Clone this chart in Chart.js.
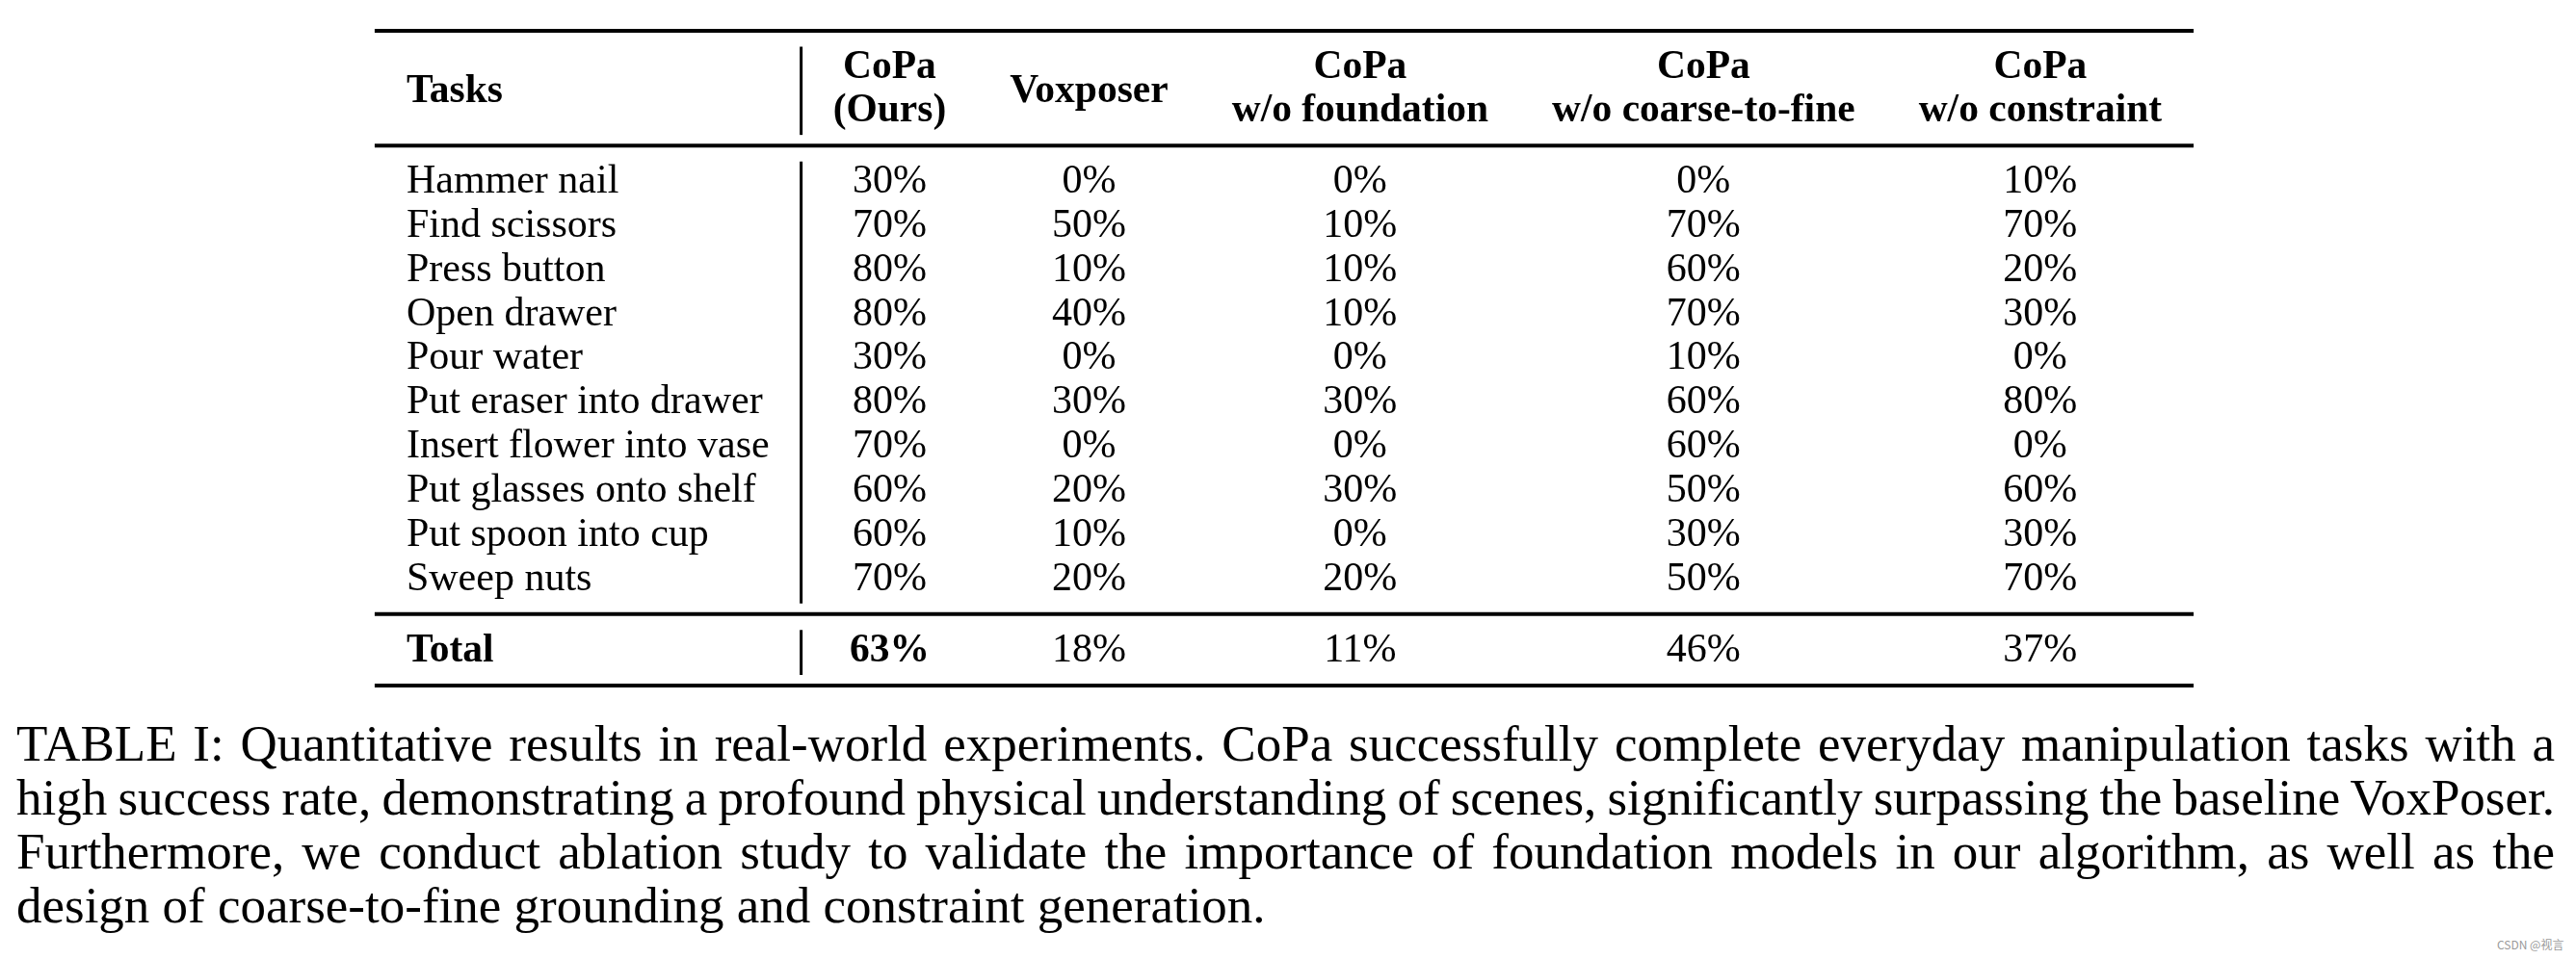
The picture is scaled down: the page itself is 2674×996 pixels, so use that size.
<!DOCTYPE html>
<html>
<head>
<meta charset="utf-8">
<script src="https://cdn.jsdelivr.net/npm/chart.js@4.4.0/dist/chart.umd.min.js"></script>
<style>
  html, body { margin: 0; padding: 0; background: #fff; }
  body { width: 2674px; height: 996px; position: relative; overflow: hidden; }
  #wrap { position: absolute; left: 0; top: 0; width: 2674px; height: 740px; }
  .caption {
    position: absolute; left: 17px; top: 744px; width: 2635px;
    font-family: "Liberation Serif", "Times New Roman", serif;
    font-size: 53px; line-height: 56px; color: #000;
  }
  .caption div { text-align: left; white-space: nowrap; }
  .mark { position: absolute; left: 2592px; top: 972px; font: 12px "Noto Sans CJK SC", sans-serif; color: #9a9a9a; }
</style>
</head>
<body>
<div id="wrap"><canvas id="chart"></canvas></div>
<div class="caption" id="caption"></div>
<div class="mark">CSDN @视言</div>
<script>
const tasks = [
  "Hammer nail", "Find scissors", "Press button", "Open drawer", "Pour water",
  "Put eraser into drawer", "Insert flower into vase", "Put glasses onto shelf",
  "Put spoon into cup", "Sweep nuts"
];
const headers = [
  ["CoPa", "(Ours)"],
  ["Voxposer"],
  ["CoPa", "w/o foundation"],
  ["CoPa", "w/o coarse-to-fine"],
  ["CoPa", "w/o constraint"]
];
const copa = [30, 70, 80, 80, 30, 80, 70, 60, 60, 70];
const voxposer = [0, 50, 10, 40, 0, 30, 0, 20, 10, 20];
const noFoundation = [0, 10, 10, 10, 0, 30, 0, 30, 0, 20];
const noCoarseToFine = [0, 70, 60, 70, 10, 60, 60, 50, 30, 50];
const noConstraint = [10, 70, 20, 30, 0, 80, 0, 60, 30, 70];
const totals = [63, 18, 11, 46, 37];

const captionLines = [
  "TABLE I: Quantitative results in real-world experiments. CoPa successfully complete everyday manipulation tasks with a",
  "high success rate, demonstrating a profound physical understanding of scenes, significantly surpassing the baseline VoxPoser.",
  "Furthermore, we conduct ablation study to validate the importance of foundation models in our algorithm, as well as the",
  "design of coarse-to-fine grounding and constraint generation."
];

const series = [copa, voxposer, noFoundation, noCoarseToFine, noConstraint];

// text look, like the LaTeX table
const FAMILY = '"Liberation Serif", "Times New Roman", serif';
const FS = 42;
const FS_BOLD = 41.5;
const SEP = 33;          // tabcolsep
const AFTER_RULE = 1.07; // rule -> next baseline (line units)
const BEFORE_RULE = 0.55;
const HEAD_LINE = 0.98;

const fontFor = (bold) => (bold ? "bold " + FS_BOLD : FS) + "px " + FAMILY;

// column widths from the text, as tabular does
const mctx = document.createElement("canvas").getContext("2d");
const textW = (s, bold) => {
  mctx.font = fontFor(bold);
  return mctx.measureText(s).width;
};
const pct = (v) => v + "%";

const colW = [];
colW.push(Math.max(textW("Tasks", true), textW("Total", true), ...tasks.map((t) => textW(t))) + 2 * SEP);
headers.forEach((h, k) => {
  colW.push(Math.max(...h.map((s) => textW(s, true)), ...series[k].map((v) => textW(pct(v))), textW(pct(totals[k]), true)) + 2 * SEP);
});
const colLeft = [];
colW.reduce((acc, w) => { colLeft.push(acc); return acc + w; }, 0);
const tableW = colW.reduce((a, b) => a + b, 0);
const colCenter = colW.map((w, k) => colLeft[k] + w / 2);

// rows (line units, top rule = 0)
const topRule = 0;
const head1 = topRule + AFTER_RULE;
const head2 = head1 + HEAD_LINE;
const midRule = head2 + BEFORE_RULE;
const rowY = tasks.map((t, i) => midRule + AFTER_RULE + i);
const totalRule = rowY[rowY.length - 1] + BEFORE_RULE;
const totalY = totalRule + AFTER_RULE;
const bottomRule = totalY + BEFORE_RULE;
const rules = [topRule, midRule, totalRule, bottomRule];

const best = totals.indexOf(Math.max(...totals));

const textSet = (points, labels, bold, align) => ({
  data: points, labels: labels, bold: bold, align: align,
  pointRadius: 0, pointHoverRadius: 0, showLine: false
});

const datasets = [];
datasets.push(textSet(tasks.map((t, i) => ({ x: colLeft[0] + SEP, y: rowY[i] })), tasks, tasks.map(() => false), "left"));
datasets.push(textSet([{ x: colLeft[0] + SEP, y: (head1 + head2) / 2 + 0.05 }, { x: colLeft[0] + SEP, y: totalY }], ["Tasks", "Total"], [true, true], "left"));
headers.forEach((h, k) => {
  const hy = h.length === 2 ? [head1, head2] : [(head1 + head2) / 2 + 0.05];
  datasets.push(textSet(h.map((s, j) => ({ x: colCenter[k + 1], y: hy[j] })), h, h.map(() => true), "center"));
  datasets.push(textSet(series[k].map((v, i) => ({ x: colCenter[k + 1], y: rowY[i] })), series[k].map(pct), series[k].map(() => false), "center"));
});
datasets.push(textSet(totals.map((v, k) => ({ x: colCenter[k + 1], y: totalY })), totals.map(pct), totals.map((v, k) => k === best), "center"));

const tablePlugin = {
  id: "tablePlugin",
  afterDatasetsDraw(chart) {
    const { ctx, chartArea, scales } = chart;
    const xs = scales.x, ys = scales.y;
    ctx.save();
    // booktabs rules
    ctx.strokeStyle = "#000";
    ctx.lineWidth = 4;
    rules.forEach((r) => {
      const y = ys.getPixelForValue(r);
      ctx.beginPath();
      ctx.moveTo(chartArea.left, y);
      ctx.lineTo(chartArea.right, y);
      ctx.stroke();
    });
    // vertical bar after the Tasks column
    ctx.lineWidth = 3;
    const vx = xs.getPixelForValue(colLeft[1]);
    for (let i = 0; i < rules.length - 1; i++) {
      ctx.beginPath();
      ctx.moveTo(vx, ys.getPixelForValue(rules[i] + 0.36));
      ctx.lineTo(vx, ys.getPixelForValue(rules[i + 1] - 0.24));
      ctx.stroke();
    }
    // cell text
    ctx.fillStyle = "#000";
    ctx.textBaseline = "alphabetic";
    chart.data.datasets.forEach((ds, d) => {
      const meta = chart.getDatasetMeta(d);
      ctx.textAlign = ds.align;
      meta.data.forEach((el, i) => {
        ctx.font = fontFor(ds.bold[i]);
        ctx.fillText(ds.labels[i], el.x, el.y);
      });
    });
    ctx.restore();
  }
};

const canvas = document.getElementById("chart");
const side = (2674 - tableW) / 2;

new Chart(canvas, {
  type: "scatter",
  data: { datasets: datasets },
  options: {
    responsive: true,
    maintainAspectRatio: false,
    animation: false,
    events: [],
    layout: { padding: { left: side - 4, right: side + 4, top: 32, bottom: 28 } },
    plugins: { legend: { display: false }, tooltip: { enabled: false } },
    scales: {
      x: { type: "linear", display: false, min: 0, max: tableW },
      y: { type: "linear", display: false, reverse: true, min: topRule, max: bottomRule }
    }
  },
  plugins: [tablePlugin]
});

// caption: justified lines, spaces stretched or squeezed like LaTeX
const cap = document.getElementById("caption");
const capW = 2635;
captionLines.forEach((line, i) => {
  const div = document.createElement("div");
  const span = document.createElement("span");
  span.textContent = line;
  div.appendChild(span);
  cap.appendChild(div);
  if (i < captionLines.length - 1) {
    const spaces = line.split(" ").length - 1;
    const natural = span.getBoundingClientRect().width;
    div.style.wordSpacing = ((capW - natural) / spaces) + "px";
  }
});
</script>
</body>
</html>
